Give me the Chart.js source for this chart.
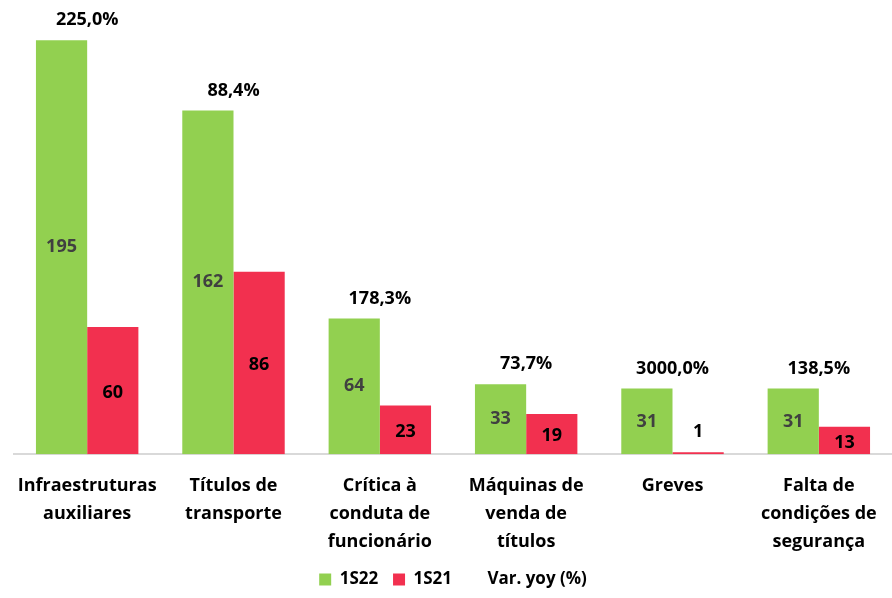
<!DOCTYPE html>
<html><head><meta charset="utf-8">
<script src="https://cdn.jsdelivr.net/npm/chart.js@4"></script>
<style>html,body{margin:0;padding:0;background:#fff}#wrap{width:892px;height:598px}</style>
</head><body><div id="wrap"><canvas id="c"></canvas></div>
<script>
const categories = [["Infraestruturas","auxiliares"],["Títulos de","transporte"],["Crítica à","conduta de","funcionário"],["Máquinas de","venda de","títulos"],["Greves"],["Falta de","condições de","segurança"]];
const s1S22 = [195, 162, 64, 33, 31, 31];
const s1S21 = [60, 86, 23, 19, 1, 13];
const varYoy = ["225,0%", "88,4%", "178,3%", "73,7%", "3000,0%", "138,5%"];
const FONT = "'Liberation Sans Narrow','Open Sans',sans-serif";

const labelsPlugin = {
  id: 'labels',
  afterDatasetsDraw(chart) {
    const ctx = chart.ctx;
    ctx.save();
    ctx.textAlign = 'center';
    ctx.textBaseline = 'middle';
    const m0 = chart.getDatasetMeta(0), m1 = chart.getDatasetMeta(1);
    m0.data.forEach((bar, i) => {
      ctx.font = "bold 18px " + FONT;
      ctx.fillStyle = '#404040';
      ctx.fillText(String(s1S22[i]), bar.x, (bar.y + bar.base) / 2);
    });
    m1.data.forEach((bar, i) => {
      ctx.font = "bold 18px " + FONT;
      ctx.fillStyle = '#000';
      const h = bar.base - bar.y;
      const y = h < 24 ? bar.y - 20 : (bar.y + bar.base) / 2 + 2;
      ctx.fillText(String(s1S21[i]), bar.x, y);
    });
    m0.data.forEach((bar, i) => {
      const b2 = m1.data[i];
      const top = Math.min(bar.y, b2.y);
      const cx = (bar.x + b2.x) / 2;
      ctx.font = "bold 18px " + FONT;
      ctx.fillStyle = '#000';
      ctx.fillText(varYoy[i], cx, top - 20);
    });
    ctx.restore();
  }
};

new Chart(document.getElementById('c'), {
  type: 'bar',
  data: {
    labels: categories,
    datasets: [
      { label: '1S22', data: s1S22, backgroundColor: '#92D050', categoryPercentage: 0.7, barPercentage: 1.0 },
      { label: '1S21', data: s1S21, backgroundColor: '#F2304F', categoryPercentage: 0.7, barPercentage: 1.0 }
    ]
  },
  options: {
    responsive: true,
    maintainAspectRatio: false,
    animation: false,
    layout: { padding: { left: 14, right: 0, top: 0, bottom: 0 } },
    plugins: {
      tooltip: { enabled: false },
      legend: {
        position: 'bottom',
        labels: {
          font: { family: FONT, size: 17, weight: 'bold' },
          color: '#000',
          boxWidth: 12, boxHeight: 12, padding: 6,
          generateLabels(chart) {
            const base = Chart.defaults.plugins.legend.labels.generateLabels(chart);
            base.forEach(l => { l.lineWidth = 0; l.strokeStyle = 'transparent'; l.text = l.text + '  '; });
            base.push({ text: 'Var. yoy (%)', fillStyle: 'rgba(0,0,0,0)', strokeStyle: 'rgba(0,0,0,0)', lineWidth: 0, hidden: false, datasetIndex: 2, fontColor: '#000' });
            return base;
          }
        }
      }
    },
    scales: {
      x: {
        grid: { display: false },
        border: { display: true, color: '#D9D9D9', width: 2 },
        ticks: { font: { family: FONT, size: 18, weight: 'bold', lineHeight: 1.55 }, color: '#000', padding: 9.5, maxRotation: 0, autoSkip: false }
      },
      y: { display: false, min: 0, max: 214 }
    }
  },
  plugins: [labelsPlugin]
});
</script></body></html>
